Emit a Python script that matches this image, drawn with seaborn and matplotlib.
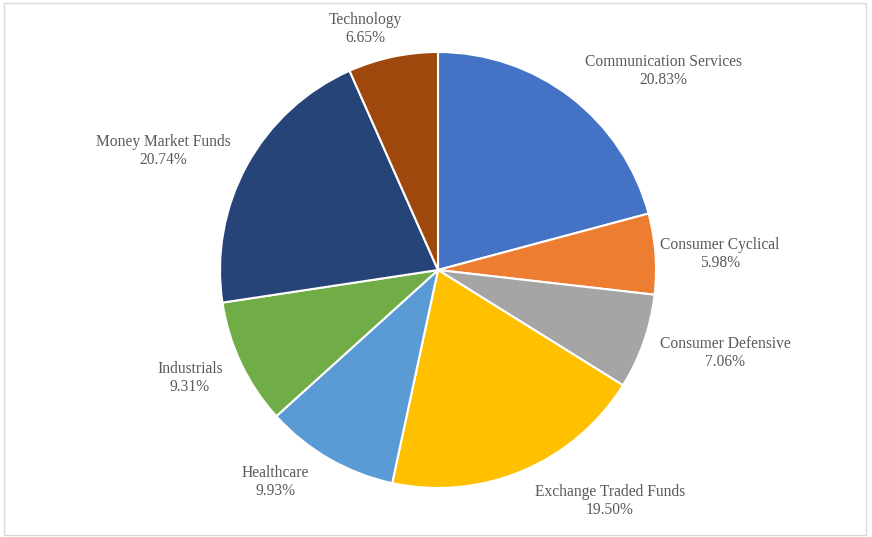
import matplotlib
matplotlib.use("Agg")
import matplotlib.pyplot as plt
import seaborn as sns
from matplotlib.patches import Rectangle

# sector allocation, clockwise from 12 o'clock
sectors = ["Communication Services", "Consumer Cyclical", "Consumer Defensive",
           "Exchange Traded Funds", "Healthcare", "Industrials",
           "Money Market Funds", "Technology"]
weights = [20.83, 5.98, 7.06, 19.50, 9.93, 9.31, 20.74, 6.65]
colors = ["#4472C4", "#ED7D31", "#A5A5A5", "#FFC000",
          "#5B9BD5", "#70AD47", "#264478", "#9E480E"]

# label centres in pixels of the 872x537 canvas (Excel-style placement)
label_px = [(663, 71), (720, 254), (725, 353), (610, 501),
            (275, 482), (190, 378), (163, 151), (365, 29)]

sns.set_theme(style="white")
plt.rcParams["font.family"] = ["Liberation Serif", "DejaVu Serif"]

W, H = 872, 537
cx, cy, r = 438, 270, 218

fig = plt.figure(figsize=(W / 100, H / 100), dpi=100)
ax = fig.add_axes([0, 0, 1, 1])
ax.pie(weights, colors=sns.color_palette(colors), startangle=90, counterclock=False,
       radius=1, center=(0, 0),
       wedgeprops=dict(edgecolor="white", linewidth=1.5))
ax.set_xlim(-cx / r, (W - cx) / r)
ax.set_ylim(-(H - cy) / r, cy / r)
ax.set_aspect("auto")
ax.axis("off")

for name, w, (px, py) in zip(sectors, weights, label_px):
    ax.text((px - cx) / r, (cy - py) / r, f"{name}\n{w:.2f}%",
            ha="center", va="center", fontsize=11.2, color="#595959",
            linespacing=1.15)

fig.patches.append(Rectangle((4 / W, 2 / H), 862 / W, 532 / H, transform=fig.transFigure,
                             fill=False, edgecolor="#d9d9d9", linewidth=1))

fig.savefig("out.png", dpi=100, facecolor="white")
